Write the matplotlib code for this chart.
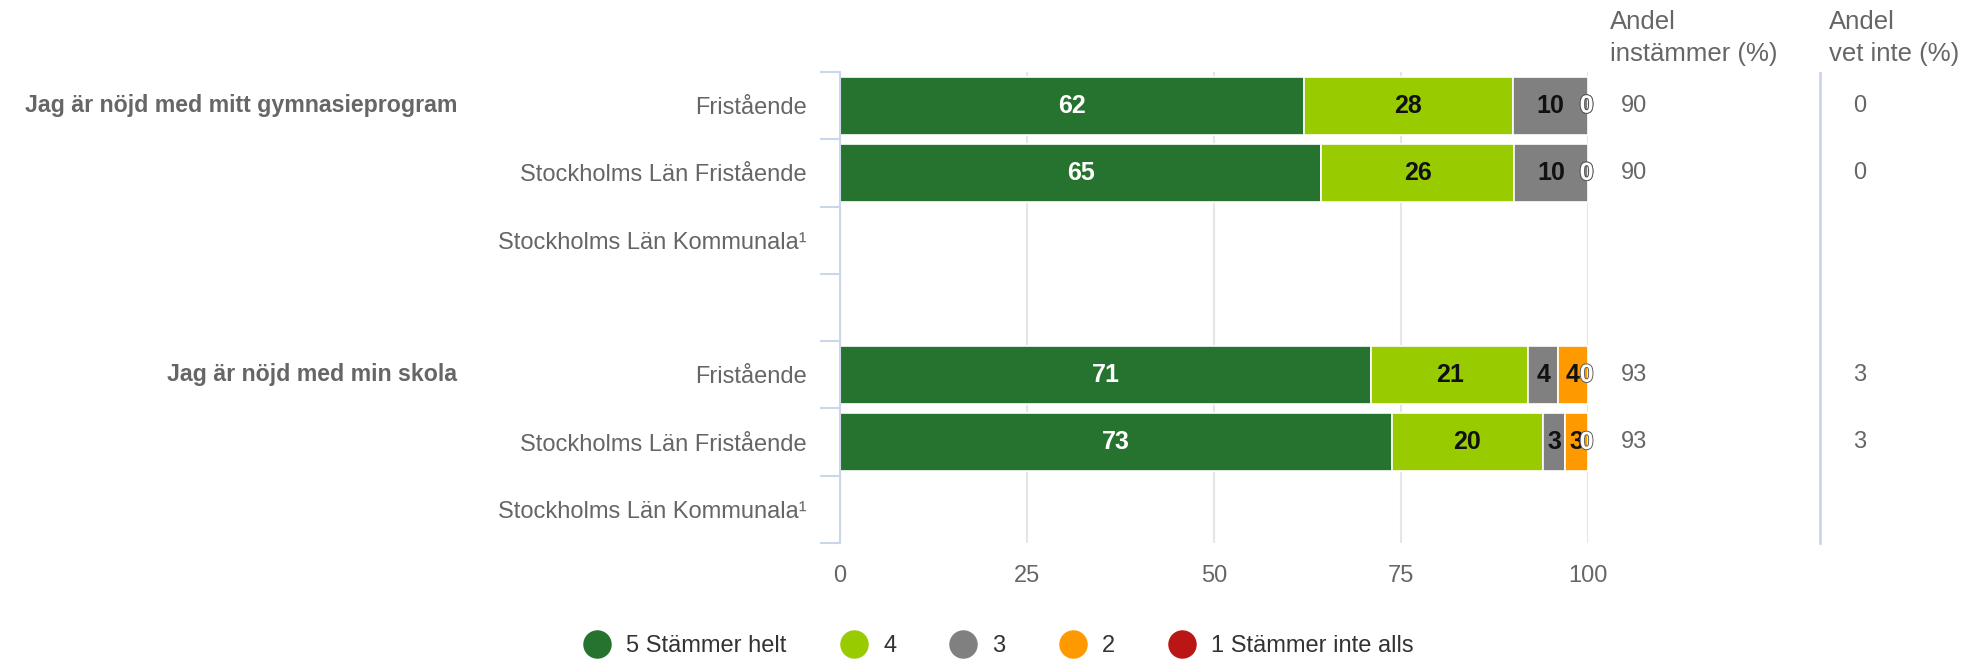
import numpy as np
import matplotlib.pyplot as plt
import matplotlib.patheffects as pe
from matplotlib.lines import Line2D
from matplotlib.transforms import blended_transform_factory

plt.rcParams['font.family'] = ['Liberation Sans', 'DejaVu Sans']

nan = np.nan
CATEGORIES = ["Fristående", "Stockholms Län Fristående", "Stockholms Län Kommunala¹", "",
              "Fristående", "Stockholms Län Fristående", "Stockholms Län Kommunala¹"]
GROUPS = ["Jag är nöjd med mitt gymnasieprogram", "Jag är nöjd med min skola"]
GROUP_ROWS = [0, 4]
SERIES = ["5 Stämmer helt", "4", "3", "2", "1 Stämmer inte alls"]
COLORS = ["#267330", "#99cc00", "#808080", "#ff9900", "#bb1616"]
LABEL_COLORS = ["white", "#111111", "#111111", "#111111", "#111111"]

s5 = [62, 65, nan, nan, 71, 73, nan]
s4 = [28, 26, nan, nan, 21, 20, nan]
s3 = [10, 10, nan, nan, 4, 3, nan]
s2 = [0, 0, nan, nan, 4, 3, nan]
s1 = [0, 0, nan, nan, 0, 0, nan]
andel_instammer = [90, 90, None, None, 93, 93, None]
andel_vet_inte = [0, 0, None, None, 3, 3, None]

GREY = "#666666"
FS = 17

fig = plt.figure(figsize=(19.72, 6.62), dpi=100)
ax = fig.add_axes([840 / 1972, 1 - 543 / 662, 748 / 1972, 471 / 662])

data = np.array([s5, s4, s3, s2, s1], dtype=float)
totals = np.nansum(data, axis=0)
pct = data / np.where(totals > 0, totals, 1) * 100  # percent stacking
y = np.arange(len(CATEGORIES))
left = np.zeros(len(y))
for k, (name, color) in enumerate(zip(SERIES, COLORS)):
    w = pct[k]
    has = ~np.isnan(w)
    show = has & (w > 0)
    ax.barh(y[show], w[show], left=left[show], height=0.86, color=color,
            edgecolor="white", linewidth=1.2, zorder=2)
    for i in y[has]:
        if data[k, i] > 0:
            ax.text(left[i] + w[i] / 2, i, f"{data[k, i]:.0f}", ha="center", va="center",
                    fontsize=18, fontweight="bold", color=LABEL_COLORS[k], zorder=3)
        else:
            ax.annotate("0", (left[i] + w[i], i), xytext=(-6, 0), textcoords="offset points",
                        ha="left", va="center", fontsize=18, fontweight="bold", color="white",
                        zorder=3, path_effects=[pe.withStroke(linewidth=1.3, foreground="#555555")])
    left = left + np.nan_to_num(w)

ax.set_xlim(0, 100)
ax.set_ylim(len(y) - 0.5, -0.5)
ax.set_xticks([0, 25, 50, 75, 100])
ax.set_yticks(y, CATEGORIES)
ax.set_yticks(np.arange(-0.5, len(y)), minor=True)
ax.tick_params(axis="x", length=0, pad=16, labelsize=FS, labelcolor=GREY)
ax.tick_params(axis="y", which="major", length=0, pad=24, labelsize=FS, labelcolor=GREY)
ax.tick_params(axis="y", which="minor", length=14.4, width=1.5, color="#ccd6eb")
for side in ["top", "right", "bottom"]:
    ax.spines[side].set_visible(False)
ax.spines["left"].set_color("#ccd6eb")
ax.spines["left"].set_linewidth(1.5)
ax.xaxis.grid(True, color="#e6e6e6", linewidth=1.5)
ax.set_axisbelow(True)

# group labels (left)
tr = blended_transform_factory(fig.transFigure, ax.transData)
for g, r in zip(GROUPS, GROUP_ROWS):
    ax.text(457 / 1972, r, g, transform=tr, ha="right", va="center", fontsize=16.7,
            fontweight="bold", color=GREY)

# right-hand columns
for i in y:
    if andel_instammer[i] is not None:
        ax.text(1621 / 1972, i, f"{andel_instammer[i]}", transform=tr, ha="left", va="center",
                fontsize=FS, color=GREY)
    if andel_vet_inte[i] is not None:
        ax.text(1853 / 1972, i, f"{andel_vet_inte[i]}", transform=tr, ha="left", va="center",
                fontsize=FS, color=GREY)
fig.text(1610 / 1972, 1 - 10 / 662, "Andel\ninstämmer (%)", ha="left", va="top", fontsize=18.5,
         color=GREY, linespacing=1.4)
fig.text(1829 / 1972, 1 - 10 / 662, "Andel\nvet inte (%)", ha="left", va="top", fontsize=18.5,
         color=GREY, linespacing=1.4)
fig.add_artist(Line2D([1820 / 1972] * 2, [1 - 73 / 662, 1 - 543 / 662], color="#ccd6eb",
                      linewidth=2, transform=fig.transFigure))

handles = [Line2D([], [], marker="o", linestyle="", markersize=19.5, color=c) for c in COLORS]
fig.legend(handles, SERIES, ncol=5, loc="center", bbox_to_anchor=(0.507, 1 - 646 / 662),
           frameon=False, fontsize=FS, handlelength=1, handletextpad=0.73, columnspacing=2.35,
           labelcolor="#333333")

fig.savefig("out.png", dpi=100)
